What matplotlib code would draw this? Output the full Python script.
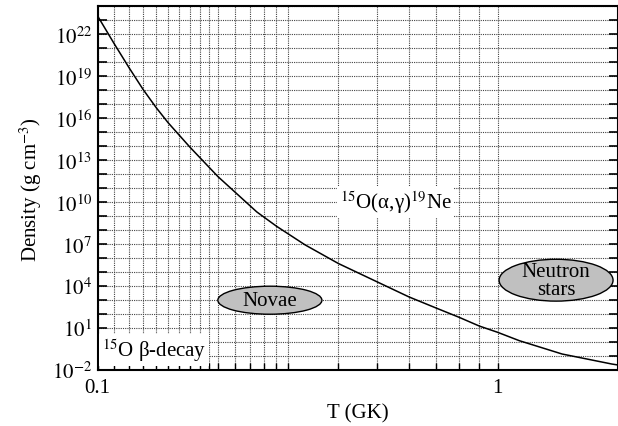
import matplotlib
matplotlib.use("Agg")
import matplotlib.pyplot as plt
from matplotlib.patches import Ellipse

plt.rcParams['font.family'] = ['Liberation Serif', 'DejaVu Serif']
plt.rcParams['mathtext.fontset'] = 'stix'

# Curve data
temperature_gk = [0.1, 0.11, 0.12, 0.13, 0.14, 0.15, 0.17, 0.2, 0.25, 0.28, 0.33,
                  0.4, 0.5, 0.6, 0.7, 0.8, 0.9, 1.0, 1.133, 1.45, 1.93, 2.0]
density = [2.0e23, 2.1e21, 3.8e19, 1.1e18, 5.8e16, 4.8e15, 8.7e13, 6.6e11, 2.0e9,
           1.9e8, 8.9e6, 4.1e5, 2.0e4, 1.7e3, 2.8e2, 6.0e1, 1.4e1, 5.0, 1.26,
           0.14, 0.027, 0.023]

# Axis ticks
x_grid_ticks = [0.1, 0.11, 0.12, 0.13, 0.14, 0.15, 0.16, 0.17, 0.18, 0.19,
                0.2, 0.22, 0.24, 0.26, 0.28, 0.3, 0.4, 0.5, 0.6, 0.7, 0.8, 0.9, 1.0]
x_tick_labels = {0.1: '0.1', 1.0: '1'}
y_exponents = list(range(-2, 25))
y_label_exponents = [-2, 1, 4, 7, 10, 13, 16, 19, 22]

FS = 15

fig = plt.figure(figsize=(6.18, 4.27), dpi=100)
ax = fig.add_axes([0.158, 0.131, 0.842, 0.852])

ax.plot(temperature_gk, density, color='black', lw=1.1, zorder=3)
ax.set_xscale('log')
ax.set_yscale('log')
ax.set_xlim(0.1, 2.0)
ax.set_ylim(1e-2, 1e24)

ax.set_xticks(x_grid_ticks)
ax.set_xticklabels([x_tick_labels.get(t, '') for t in x_grid_ticks])
ax.xaxis.set_minor_locator(matplotlib.ticker.NullLocator())
ax.set_yticks([10.0 ** k for k in y_exponents])
ax.set_yticklabels(['$10^{%d}$' % k if k in y_label_exponents else '' for k in y_exponents])
ax.yaxis.set_minor_locator(matplotlib.ticker.NullLocator())

ax.tick_params(axis='x', direction='in', length=5, width=1, labelsize=FS, pad=6)
ax.tick_params(axis='y', direction='in', length=6.5, width=1.2, labelsize=FS,
               right=True, pad=4)
ax.grid(True, which='major', color='#444444', linestyle=(0, (1, 1)), lw=0.8, zorder=0)
for s in ax.spines.values():
    s.set_linewidth(1.5)

ax.set_xlabel('T (GK)', fontsize=FS, labelpad=4)
ax.set_ylabel('Density (g cm$^{-3}$)', fontsize=FS, labelpad=6)

# Regions
ax.add_patch(Ellipse((0.331, 0.192), 0.2, 0.077, transform=ax.transAxes,
                     facecolor='#c0c0c0', edgecolor='black', lw=1, zorder=4))
ax.text(0.331, 0.192, 'Novae', transform=ax.transAxes, ha='center', va='center',
        fontsize=FS, zorder=5)
ax.add_patch(Ellipse((0.881, 0.247), 0.219, 0.115, transform=ax.transAxes,
                     facecolor='#c0c0c0', edgecolor='black', lw=1, zorder=4))
ax.text(0.881, 0.247, 'Neutron\nstars', transform=ax.transAxes, ha='center',
        va='center', fontsize=FS, linespacing=0.9, zorder=5)

ax.text(0.573, 0.462, '$^{15}$O(α,γ)$^{19}$Ne', transform=ax.transAxes,
        ha='center', va='center', fontsize=FS, zorder=5,
        bbox=dict(facecolor='white', edgecolor='none', pad=2))
ax.text(0.008, 0.055, '$^{15}$O β-decay', transform=ax.transAxes,
        ha='left', va='center', fontsize=FS, zorder=5,
        bbox=dict(facecolor='white', edgecolor='none', pad=2))

fig.savefig('out.png', dpi=100)
